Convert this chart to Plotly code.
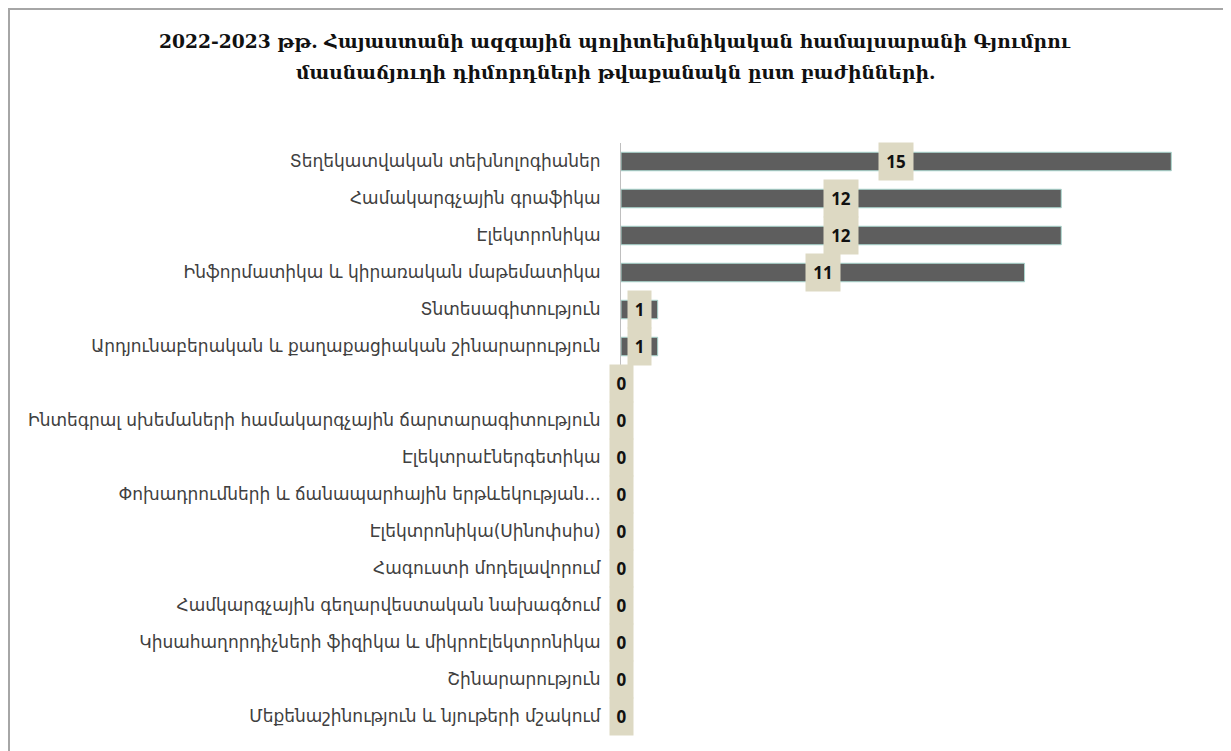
import plotly.graph_objects as go

categories = [
    "Տեղեկատվական տեխնոլոգիաներ",
    "Համակարգչային գրաֆիկա",
    "Էլեկտրոնիկա",
    "Ինֆորմատիկա և կիրառական մաթեմատիկա",
    "Տնտեսագիտություն",
    "Արդյունաբերական և քաղաքացիական շինարարություն",
    "",
    "Ինտեգրալ սխեմաների համակարգչային ճարտարագիտություն",
    "Էլեկտրաէներգետիկա",
    "Փոխադրումների և ճանապարհային երթևեկության...",
    "Էլեկտրոնիկա(Սինոփսիս)",
    "Հագուստի մոդելավորում",
    "Համկարգչային գեղարվեստական նախագծում",
    "Կիսահաղորդիչների ֆիզիկա և միկրոէլեկտրոնիկա",
    "Շինարարություն",
    "Մեքենաշինություն և նյութերի մշակում",
]
values = [15, 12, 12, 11, 1, 1, 0, 0, 0, 0, 0, 0, 0, 0, 0, 0]
title_lines = [
    "2022-2023 թթ. Հայաստանի ազգային պոլիտեխնիկական համալսարանի Գյումրու",
    "մասնաճյուղի դիմորդների թվաքանակն ըստ բաժինների.",
]

positions = list(range(len(categories)))

fig = go.Figure()
fig.add_trace(go.Bar(
    x=values,
    y=positions,
    orientation="h",
    width=0.5,
    marker=dict(color="#5E5E5E", line=dict(color="#A9D6CE", width=1)),
    hoverinfo="skip",
))

# page is offset by the default 8px body margin
W, H = 1223, 743
ml, mr, mt, mb = 613, 23, 135, 16
pw = W - ml - mr
ph = H - mt - mb

annotations = []
for p, v in zip(positions, values):
    s = str(v)
    annotations.append(dict(
        x=v / 2, y=p, xref="x", yref="y", text="<b>%s</b>" % s,
        showarrow=False, bgcolor="#DDD9C3", borderpad=0,
        width=11 * len(s) + 12, height=37,
        font=dict(family="Open Sans", size=17, color="#111111"),
        xanchor="center", yanchor="middle",
    ))

title_y = [33, 64]
for line, ty in zip(title_lines, title_y):
    annotations.append(dict(
        x=(607 - ml) / pw, xref="paper", y=1 + (mt - ty) / ph, yref="paper",
        text="<b>%s</b>" % line, showarrow=False,
        xanchor="center", yanchor="middle",
        font=dict(family="DejaVu Serif", size=18.7, color="#111111"),
    ))

fig.update_layout(
    width=W, height=H,
    margin=dict(l=ml, r=mr, t=mt, b=mb),
    paper_bgcolor="white", plot_bgcolor="white",
    showlegend=False,
    annotations=annotations,
    xaxis=dict(range=[0, 16], showgrid=False, zeroline=False,
               showticklabels=False, showline=False, fixedrange=True),
    yaxis=dict(range=[15.5, -0.5], tickmode="array", tickvals=positions,
               ticktext=categories, showgrid=False, zeroline=False,
               showline=True, linecolor="#BFBFBF", linewidth=1,
               ticks="", ticklabelstandoff=16,
               tickfont=dict(family="DejaVu Sans", size=17, color="#404040")),
    shapes=[dict(type="rect", xref="paper", yref="paper",
                 x0=-(ml - 1) / pw, x1=1 + (mr - 1) / pw,
                 y0=-(mb + 5) / ph, y1=1 + (mt - 1) / ph,
                 line=dict(color="#A6A6A6", width=2), layer="below")],
)

fig.write_html("out.html")
